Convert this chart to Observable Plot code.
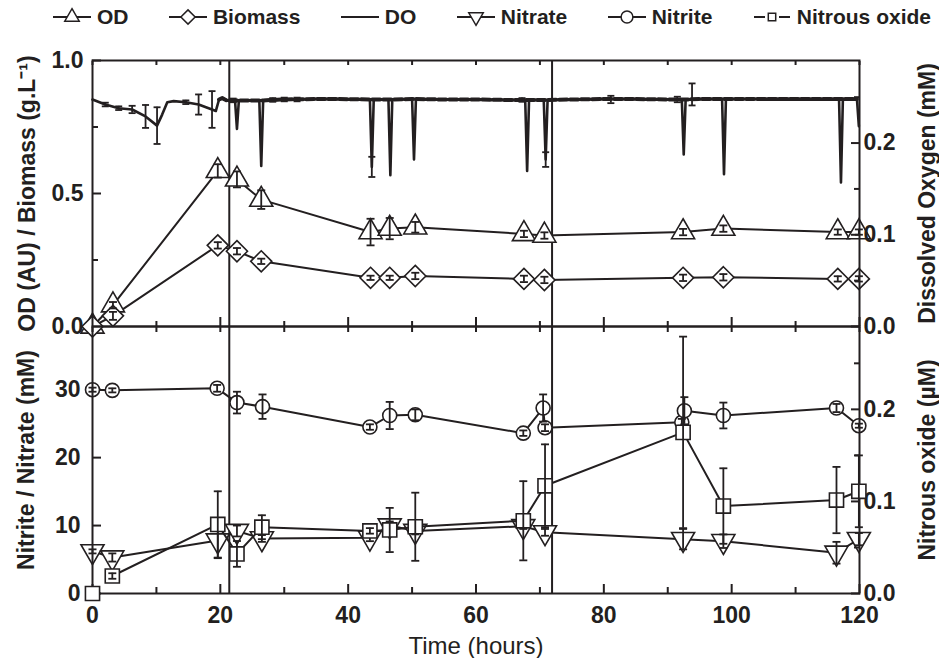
<!DOCTYPE html>
<html>
<head>
<meta charset="utf-8">
<script src="https://cdn.jsdelivr.net/npm/d3@7"></script>
<script src="https://cdn.jsdelivr.net/npm/@observablehq/plot@0.6"></script>
<style>
  body { margin: 0; background: #fff; }
  #chart { position: relative; width: 939px; height: 658px; overflow: hidden; background: #fff;
           font-family: "Liberation Sans", Arial, sans-serif; color: #231f20; }
  #chart svg.layer { position: absolute; left: 0; top: 0; background: transparent; overflow: visible; }
  #legend { position: absolute; left: 52px; width: 879px; top: 4px; height: 26px; display: flex;
            justify-content: space-between; align-items: center; font-weight: bold; font-size: 21px;
            font-family: "Liberation Sans Narrow", "Liberation Sans", Arial, sans-serif; white-space: nowrap; }
  #legend .item { display: flex; align-items: center; gap: 5px; }
  #legend svg { display: block; }
</style>
</head>
<body>
<div id="chart"><div id="legend"></div></div>
<script>
// ---------------- data ----------------
// Top panel: OD (AU) and Biomass (g/L)
const timeOD     = [0, 3.2, 19.6, 22.6, 26.4, 43.5, 46.5, 50.5, 67.5, 70.7, 92.4, 98.7, 116.6, 119.9];
const odValue    = [0, 0.08, 0.585, 0.553, 0.477, 0.355, 0.368, 0.373, 0.348, 0.342, 0.355, 0.368, 0.355, 0.355];
const odError    = [0, 0.012, 0.025, 0.03, 0.035, 0.05, 0.04, 0.02, 0.012, 0.012, 0.012, 0.012, 0.01, 0.01];
const biomassValue = [0, 0.04, 0.305, 0.283, 0.245, 0.183, 0.183, 0.19, 0.179, 0.175, 0.183, 0.185, 0.179, 0.179];
const biomassError = [0, 0.015, 0.012, 0.012, 0.01, 0.008, 0.008, 0.012, 0.012, 0.012, 0.012, 0.012, 0.01, 0.01];

// Dissolved oxygen (mM), right axis of top panel
const doTime  = [0, 2.0, 4.1, 6.2, 8.3, 10.1, 10.9, 11.7, 12.7, 14.6, 16.6, 18.7, 19.3, 19.8, 20.3, 21.0,
                 22.3, 22.6, 22.9, 26.1, 26.4, 26.7, 30, 35, 38, 43.4, 43.7, 44.0, 46.3, 46.6, 46.9,
                 50.0, 50.3, 50.6, 55, 60, 65, 67.7, 68.0, 68.3, 70.6, 70.9, 71.2, 75, 80, 85, 90,
                 92.2, 92.5, 92.8, 95, 98.5, 98.8, 99.1, 105, 110, 116.8, 117.1, 117.4, 119.6, 119.9];
const doValue = [0.2475, 0.242, 0.238, 0.2366, 0.229, 0.219, 0.231, 0.2445, 0.2457, 0.2445, 0.242, 0.2366, 0.235, 0.2475, 0.249, 0.2465,
                 0.2465, 0.2155, 0.2465, 0.2465, 0.175, 0.2465, 0.2475, 0.248, 0.248, 0.2475, 0.174, 0.2475, 0.2475, 0.165, 0.2475,
                 0.248, 0.182, 0.248, 0.2475, 0.2475, 0.247, 0.247, 0.1696, 0.247, 0.247, 0.182, 0.247, 0.2475, 0.248, 0.248, 0.2475,
                 0.2475, 0.1877, 0.2475, 0.248, 0.248, 0.166, 0.248, 0.248, 0.248, 0.248, 0.157, 0.248, 0.248, 0.2185];
const doErrTime  = [2.0, 4.1, 6.2, 8.3, 10.1, 14.6, 16.6, 18.7, 22.0, 28.2, 30.0, 32.0, 43.7, 67.2, 70.9, 81.1, 91.5, 93.8];
const doErrValue = [0.242, 0.238, 0.2366, 0.229, 0.219, 0.2445, 0.242, 0.2366, 0.2465, 0.247, 0.2475, 0.2475, 0.174, 0.247, 0.182, 0.2475, 0.2475, 0.253];
const doErrSd    = [0.002, 0.002, 0.004, 0.0125, 0.02, 0.002, 0.011, 0.02, 0.002, 0.002, 0.002, 0.002, 0.011, 0.002, 0.008, 0.004, 0.003, 0.012];

// Bottom panel: Nitrite / Nitrate (mM), left axis
const timeNitrite  = [0, 3.1, 19.5, 22.6, 26.6, 43.4, 46.5, 50.5, 67.4, 70.5, 70.8, 92.2, 92.6, 98.7, 116.4, 119.9];
const nitriteValue = [30.0, 29.9, 30.2, 28.1, 27.5, 24.5, 26.2, 26.3, 23.6, 27.3, 24.4, 25.2, 26.9, 26.2, 27.3, 24.7];
const nitriteError = [0.3, 0.3, 0.5, 1.6, 1.8, 0.4, 2.0, 0.8, 0.4, 2.0, 0.5, 0.5, 2.0, 1.9, 0.6, 0.3];
const timeN        = [0, 3.1, 19.6, 22.6, 26.5, 43.4, 46.5, 50.5, 67.4, 70.8, 92.4, 98.7, 116.4, 119.9];
const nitrateValue = [6.2, 5.3, 7.8, 9.2, 8.1, 8.2, 10.0, 9.2, 9.9, 9.0, 8.0, 7.7, 6.0, 8.0];
const nitrateError = [0.3, 0.6, 2.6, 0.8, 0.5, 0.5, 0.6, 0.5, 0.4, 0.5, 1.5, 1.0, 1.6, 0.9];
// Nitrous oxide (µM), right axis
const n2oValue = [0, 0.019, 0.075, 0.043, 0.072, 0.068, 0.069, 0.0725, 0.079, 0.117, 0.175, 0.095, 0.1015, 0.111];
const n2oError = [0, 0.003, 0.036, 0.014, 0.013, 0.003, 0.024, 0.037, 0.043, 0.045, 0.104, 0.041, 0.036, 0.039];

// Phase boundaries (hours)
const phaseTimes = [21.4, 71.9];

// Axis ticks and labels
const xMajor = [0, 20, 40, 60, 80, 100, 120];
const xMinor = [10, 30, 50, 70, 90, 110];
const odTicks = [0, 0.5, 1.0], odMinor = [0.25, 0.75];
const doTicks = [0, 0.1, 0.2], doMinor = [0.05, 0.15, 0.25];
const nTicks = [0, 10, 20, 30];
const n2oTicks = [0, 0.1, 0.2], n2oMinor = [0.05, 0.15, 0.25];

const legendLabels = ["OD", "Biomass", "DO", "Nitrate", "Nitrite", "Nitrous oxide"];
const titles = {
  od: "OD (AU) / Biomass (g.L\u207B\u00B9)",
  dO: "Dissolved Oxygen (mM)",
  n: "Nitrite / Nitrate (mM)",
  n2o: "Nitrous oxide (\u00B5M)",
  x: "Time (hours)"
};

// ---------------- layout ----------------
const W = 939, H = 658;
const L = 92, R = 859, TOP = 60, MID = 326, BOT = 593;
const ink = "#231f20";

const rows = (ts, vs, es) => ts.map((t, i) => ({t, v: vs[i], e: es ? es[i] : 0}));
const od = rows(timeOD, odValue, odError);
const bio = rows(timeOD, biomassValue, biomassError);
const dox = rows(doTime, doValue);
const doErr = rows(doErrTime, doErrValue, doErrSd);
const nitrite = rows(timeNitrite, nitriteValue, nitriteError);
const nitrate = rows(timeN, nitrateValue, nitrateError);
const n2o = rows(timeN, n2oValue, n2oError);

// custom symbols
const triDown = {draw(ctx, size) {
  const s = Math.sqrt(size) * 0.6824, t = s / 2, u = s * Math.sqrt(3) / 2;
  ctx.moveTo(0, s); ctx.lineTo(u, -t); ctx.lineTo(-u, -t); ctx.closePath();
}};
const capSym = {draw(ctx, size) {
  const w = Math.sqrt(size / Math.PI);
  ctx.moveTo(-w, 0); ctx.lineTo(w, 0);
}};

function errorBars(data, opts = {}) {
  const d = data.filter(r => r.e > 0);
  const sw = opts.strokeWidth ?? 1.8, capR = opts.cap ?? 4;
  return [
    Plot.ruleX(d, {x: "t", y1: r => r.v - r.e, y2: r => r.v + r.e, stroke: ink, strokeWidth: sw}),
    Plot.dot(d, {x: "t", y: r => r.v + r.e, symbol: capSym, r: capR, stroke: ink, strokeWidth: sw}),
    Plot.dot(d, {x: "t", y: r => r.v - r.e, symbol: capSym, r: capR, stroke: ink, strokeWidth: sw})
  ];
}
const series = (data, symbol, r) =>
  Plot.dot(data, {x: "t", y: "v", symbol, r, fill: "white", stroke: ink, strokeWidth: 1.6});
const inTicks = (fn, values, anchor, size) =>
  fn(values, {anchor, label: null, tickSize: -size, tickFormat: () => "", stroke: ink, strokeWidth: 2});

const baseStyle = {fontFamily: "'Liberation Sans', Arial, sans-serif", fontSize: "23px", fontWeight: "bold",
                   color: ink, background: "transparent", overflow: "visible"};

function layer(opts) {
  const svg = Plot.plot({width: W, height: H, marginLeft: L, marginRight: W - R, style: baseStyle, ...opts});
  svg.classList.add("layer");
  document.getElementById("chart").appendChild(svg);
}

const fmt1 = d3.format(".1f");
const title = (text, anchor, dx) =>
  Plot.text([text], {frameAnchor: anchor, dx, rotate: -90, text: d => d, textAnchor: "middle",
                     lineAnchor: "middle", fontSize: 23, fill: ink});

// baseline part of the DO trace (used for the thick dashed look of the record)
const doBaseline = dox.filter(d => d.t >= 19.8 && d.v > 0.24);

// ---- top panel, left axis (OD / Biomass)
layer({
  marginTop: TOP, marginBottom: H - MID,
  x: {domain: [0, 120]},
  y: {domain: [0, 1]},
  marks: [
    Plot.ruleX(phaseTimes, {stroke: ink, strokeWidth: 2}),
    inTicks(Plot.axisX, xMajor, "bottom", 9),
    inTicks(Plot.axisX, xMinor, "bottom", 5),
    inTicks(Plot.axisX, xMajor.concat(xMinor), "top", 4),
    inTicks(Plot.axisY, odTicks, "left", 9),
    inTicks(Plot.axisY, odMinor, "left", 6),
    Plot.axisY(odTicks, {anchor: "left", label: null, tickSize: 0, tickPadding: 9, tickFormat: fmt1}),
    Plot.line(od, {x: "t", y: "v", stroke: ink, strokeWidth: 2}),
    Plot.line(bio, {x: "t", y: "v", stroke: ink, strokeWidth: 2}),
    series(od, "triangle2", 11),
    series(bio, "diamond2", 9.5),
    errorBars(od), errorBars(bio),
    title(titles.od, "left", -65),
    Plot.frame({stroke: ink, strokeWidth: 2})
  ]
});

// ---- top panel, right axis (Dissolved oxygen)
layer({
  marginTop: TOP, marginBottom: H - MID,
  x: {domain: [0, 120], axis: null},
  y: {domain: [0, 0.29]},
  marks: [
    inTicks(Plot.axisY, doTicks, "right", 9),
    inTicks(Plot.axisY, doMinor, "right", 6),
    Plot.axisY(doTicks, {anchor: "right", label: null, tickSize: 0, tickPadding: 4, tickFormat: fmt1}),
    Plot.line(dox, {x: "t", y: "v", stroke: ink, strokeWidth: 2.6}),
    Plot.line(doBaseline, {x: "t", y: "v", stroke: ink, strokeWidth: 4, strokeDasharray: "8,3"}),
    errorBars(doErr, {strokeWidth: 1.8, cap: 3.5}),
    title(titles.dO, "right", 68)
  ]
});

// ---- bottom panel, left axis (Nitrite / Nitrate)
layer({
  marginTop: MID, marginBottom: H - BOT,
  x: {domain: [0, 120]},
  y: {domain: [0, 39.3]},
  marks: [
    Plot.ruleX(phaseTimes, {stroke: ink, strokeWidth: 2}),
    inTicks(Plot.axisX, xMajor, "bottom", 9),
    inTicks(Plot.axisX, xMinor, "bottom", 6),
    inTicks(Plot.axisX, xMajor.concat(xMinor), "top", 5),
    Plot.axisX(xMajor, {anchor: "bottom", label: null, tickSize: 0, tickPadding: 13, tickFormat: d3.format("d")}),
    inTicks(Plot.axisY, nTicks, "left", 9),
    Plot.axisY(nTicks, {anchor: "left", label: null, tickSize: 0, tickPadding: 12, tickFormat: d3.format("d")}),
    Plot.line(nitrite, {x: "t", y: "v", stroke: ink, strokeWidth: 2}),
    Plot.line(nitrate, {x: "t", y: "v", stroke: ink, strokeWidth: 2}),
    series(nitrite, "circle", 7),
    series(nitrate, triDown, 11),
    errorBars(nitrite), errorBars(nitrate),
    title(titles.n, "left", -66),
    Plot.text([titles.x], {frameAnchor: "bottom", dy: 53, text: d => d, fontSize: 24, fontWeight: "normal",
                           textAnchor: "middle", lineAnchor: "middle", fill: ink}),
    Plot.frame({stroke: ink, strokeWidth: 2})
  ]
});

// ---- bottom panel, right axis (Nitrous oxide)
layer({
  marginTop: MID, marginBottom: H - BOT,
  x: {domain: [0, 120], axis: null},
  y: {domain: [0, 0.29]},
  marks: [
    inTicks(Plot.axisY, n2oTicks, "right", 9),
    inTicks(Plot.axisY, n2oMinor, "right", 6),
    Plot.axisY(n2oTicks, {anchor: "right", label: null, tickSize: 0, tickPadding: 4, tickFormat: fmt1}),
    Plot.line(n2o.filter(d => d.t > 0), {x: "t", y: "v", stroke: ink, strokeWidth: 2}),
    series(n2o, "square2", 9),
    errorBars(n2o),
    title(titles.n2o, "right", 68)
  ]
});

// ---------------- legend ----------------
const legendSymbols = [d3.symbolTriangle2, d3.symbolDiamond2, null, triDown, d3.symbolCircle, d3.symbolSquare2];
const legendSizes = [150, 130, 0, 150, 110, 70];
const legend = d3.select("#legend");
legendLabels.forEach((lab, i) => {
  const item = legend.append("div").attr("class", "item");
  const sw = 40, sh = 22;
  const s = item.append("svg").attr("width", sw).attr("height", sh);
  if (i === 5) {
    s.append("line").attr("x1", 2).attr("x2", 13).attr("y1", sh / 2).attr("y2", sh / 2).attr("stroke", ink).attr("stroke-width", 2);
    s.append("line").attr("x1", 27).attr("x2", 38).attr("y1", sh / 2).attr("y2", sh / 2).attr("stroke", ink).attr("stroke-width", 2);
  } else {
    s.append("line").attr("x1", 1).attr("x2", sw - 1).attr("y1", sh / 2).attr("y2", sh / 2).attr("stroke", ink).attr("stroke-width", 2);
  }
  if (legendSymbols[i]) {
    s.append("path").attr("transform", `translate(${sw / 2},${sh / 2})`)
      .attr("d", d3.symbol(legendSymbols[i], legendSizes[i])())
      .attr("fill", "white").attr("stroke", ink).attr("stroke-width", 1.5);
  }
  item.append("span").text(lab);
});
</script>
</body>
</html>
